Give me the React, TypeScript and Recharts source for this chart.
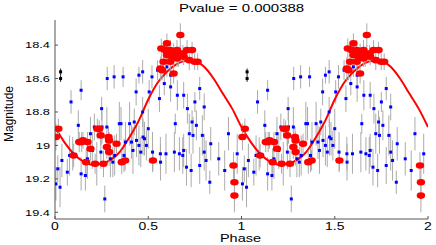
import React from 'react'
import { ComposedChart, Scatter, Line, XAxis, YAxis, ErrorBar } from 'recharts'

// one cycle of phase [phase, magnitude, error]; the plot shows it twice (0-1 and 1-2)
const BLUE: [number, number, number][] = [
  [0.005, 19.23, 0.1], [0.015, 19.14, 0.08], [0.027, 19.25, 0.12], [0.037, 19.09, 0.1],
  [0.066, 19.16, 0.08], [0.078, 19.06, 0.12], [0.086, 18.74, 0.07], [0.095, 19.05, 0.1],
  [0.125, 18.88, 0.09], [0.14, 18.67, 0.06], [0.14, 19.17, 0.1], [0.163, 19.18, 0.09],
  [0.174, 19.08, 0.12], [0.19, 18.93, 0.1], [0.2, 19.03, 0.11], [0.211, 18.89, 0.08],
  [0.224, 19.11, 0.13], [0.246, 19.04, 0.1], [0.25, 18.78, 0.07], [0.252, 18.89, 0.1],
  [0.267, 19.32, 0.08], [0.278, 18.89, 0.12], [0.28, 18.6, 0.07], [0.297, 19.08, 0.11],
  [0.31, 19.1, 0.09], [0.317, 18.59, 0.07], [0.32, 19.06, 0.12], [0.345, 18.87, 0.13],
  [0.354, 18.87, 0.1], [0.365, 18.59, 0.06], [0.37, 19.06, 0.1], [0.378, 18.98, 0.12],
  [0.4, 18.87, 0.13], [0.41, 18.98, 0.1], [0.418, 19.03, 0.14], [0.425, 18.86, 0.08],
  [0.435, 18.68, 0.08], [0.437, 18.97, 0.1], [0.45, 18.58, 0.05], [0.45, 19.0, 0.12],
  [0.46, 19.04, 0.09], [0.47, 18.56, 0.07], [0.47, 18.8, 0.09], [0.472, 18.95, 0.11],
  [0.48, 18.96, 0.1], [0.49, 19.0, 0.09], [0.5, 18.9, 0.12], [0.505, 18.68, 0.07],
  [0.52, 18.59, 0.07], [0.523, 19.04, 0.12], [0.55, 18.55, 0.06], [0.56, 18.72, 0.08],
  [0.565, 19.05, 0.1], [0.566, 19.1, 0.11], [0.586, 18.63, 0.07], [0.595, 19.05, 0.12],
  [0.6, 18.53, 0.06], [0.62, 18.58, 0.07], [0.62, 18.65, 0.09], [0.64, 19.04, 0.12],
  [0.645, 18.87, 0.06], [0.656, 18.7, 0.09], [0.667, 19.05, 0.1], [0.685, 19.06, 0.11],
  [0.69, 18.7, 0.08], [0.69, 19.03, 0.1], [0.705, 19.13, 0.11], [0.71, 18.78, 0.09],
  [0.72, 18.93, 0.12], [0.73, 19.15, 0.1], [0.735, 18.86, 0.07], [0.74, 18.94, 0.11],
  [0.75, 18.74, 0.06], [0.758, 18.88, 0.09], [0.776, 18.66, 0.07], [0.776, 19.12, 0.11],
  [0.79, 18.94, 0.12], [0.8, 18.77, 0.08], [0.8, 19.04, 0.11], [0.81, 19.09, 0.12],
  [0.83, 19.22, 0.07], [0.835, 18.99, 0.1], [0.878, 19.08, 0.1], [0.91, 19.15, 0.12],
  [0.93, 18.93, 0.1], [0.977, 19.05, 0.12],
]

const RED: [number, number, number][] = [
  [0.005, 18.95, 0.08], [0.018, 18.9, 0.06], [0.1, 19.06, 0.07], [0.13, 18.98, 0.06],
  [0.143, 18.98, 0.06], [0.15, 18.97, 0.05], [0.167, 19.1, 0.08], [0.174, 18.98, 0.06],
  [0.19, 19.02, 0.07], [0.215, 19.11, 0.06], [0.227, 18.9, 0.06], [0.237, 18.9, 0.05],
  [0.245, 18.94, 0.06], [0.26, 19.11, 0.08], [0.278, 19.01, 0.07], [0.287, 18.95, 0.06],
  [0.29, 18.97, 0.05], [0.29, 19.04, 0.08], [0.33, 18.99, 0.06], [0.358, 19.1, 0.07],
  [0.376, 19.09, 0.06], [0.525, 19.09, 0.06], [0.957, 19.12, 0.08], [0.962, 19.22, 0.1],
  [0.962, 19.3, 0.1],
  [0.672, 18.34, 0.07], [0.6, 18.39, 0.06], [0.57, 18.42, 0.06], [0.59, 18.43, 0.05],
  [0.618, 18.43, 0.06], [0.636, 18.44, 0.05], [0.654, 18.43, 0.06], [0.686, 18.45, 0.05],
  [0.708, 18.43, 0.06], [0.735, 18.43, 0.05], [0.6, 18.46, 0.06], [0.627, 18.47, 0.05],
  [0.663, 18.47, 0.06], [0.672, 18.45, 0.05], [0.582, 18.5, 0.07], [0.618, 18.5, 0.06],
  [0.654, 18.48, 0.05], [0.72, 18.49, 0.06], [0.749, 18.5, 0.05], [0.765, 18.5, 0.05],
  [0.565, 18.54, 0.07], [0.574, 18.55, 0.06], [0.636, 18.57, 0.06], [0.69, 18.47, 0.05],
]

const BLACK: [number, number, number][] = [
  [0.03, 18.56, 0.02], [0.03, 18.6, 0.02],
]

// fitted curve read every 0.05 in phase
const CURVE_PHASE = [0, 0.05, 0.1, 0.15, 0.2, 0.25, 0.3, 0.35, 0.4, 0.45, 0.5, 0.55, 0.6, 0.65, 0.7, 0.75, 0.8, 0.85, 0.9, 0.95]
const CURVE_MAG = [18.89, 18.98, 19.05, 19.095, 19.115, 19.11, 19.085, 19.035, 18.95, 18.85, 18.725, 18.625, 18.56, 18.515, 18.495, 18.495, 18.53, 18.6, 18.69, 18.78]

const X_TICKS = [0, 0.5, 1, 1.5, 2]
const Y_TICKS = [18.4, 18.6, 18.8, 19, 19.2, 19.4]

const twice = (pts: [number, number, number][]) =>
  pts.flatMap(([x, y, e]) => [{ x, y, e }, { x: x + 1, y, e }])

const blueData = twice(BLUE)
const redData = twice(RED)
const blackData = twice(BLACK)
const curveData = [
  ...CURVE_PHASE.map((x, i) => ({ x, y: CURVE_MAG[i] })),
  ...CURVE_PHASE.map((x, i) => ({ x: x + 1, y: CURVE_MAG[i] })),
  { x: 2, y: CURVE_MAG[0] },
]

const FONT = '"Liberation Sans", Arial, sans-serif'

function XTick({ x, y, payload }: any) {
  return (
    <g transform={`translate(${x},${y})`}>
      <text transform="scale(1.4,1)" textAnchor="middle" fontSize={10} fontFamily={FONT} fill="#000">
        {payload.value}
      </text>
    </g>
  )
}

function YTick({ x, y, payload }: any) {
  return (
    <g transform={`translate(${x},${y})`}>
      <text transform="scale(1.35,1)" textAnchor="end" dy={3.4} fontSize={9.5} fontFamily={FONT} fill="#000">
        {payload.value}
      </text>
    </g>
  )
}

const BlueDot = (p: any) => <rect x={p.cx - 1.5} y={p.cy - 1.5} width={3} height={3} fill="#0000ff" />
const BlackDot = (p: any) => <rect x={p.cx - 1.5} y={p.cy - 1.5} width={3} height={3} fill="#000" />
const RedDot = (p: any) => <ellipse cx={p.cx} cy={p.cy} rx={4.2} ry={3.3} fill="#ff0000" />

export default function App() {
  return (
    <div style={{ position: 'absolute', left: 0, top: 0, width: 436, height: 245, background: '#fff' }}>
      <ComposedChart width={436} height={245} margin={{ top: 20, right: 8, bottom: 0, left: 0 }}>
        <XAxis xAxisId="b" type="number" dataKey="x" domain={[0, 2]} ticks={X_TICKS} allowDataOverflow
          height={26} tickSize={-3} tickMargin={14} tick={<XTick />} stroke="#555" />
        <XAxis xAxisId="t" orientation="top" type="number" dataKey="x" domain={[0, 2]} ticks={X_TICKS} allowDataOverflow
          height={0} tickSize={-3} tick={false} stroke="#555" />
        <YAxis yAxisId="l" type="number" domain={[18.25, 19.44]} ticks={Y_TICKS} reversed allowDataOverflow
          width={55} tickSize={-3} tickMargin={8} tick={<YTick />} stroke="#555" />
        <YAxis yAxisId="r" orientation="right" type="number" domain={[18.25, 19.44]} ticks={Y_TICKS} reversed allowDataOverflow
          width={0} tickSize={-3} tick={false} stroke="#999" strokeWidth={1.5} />
        <Scatter xAxisId="b" yAxisId="l" data={blueData} dataKey="y" shape={BlueDot} isAnimationActive={false}>
          <ErrorBar dataKey="e" direction="y" width={0} stroke="#ababab" strokeWidth={1} />
        </Scatter>
        <Scatter xAxisId="b" yAxisId="l" data={blackData} dataKey="y" shape={BlackDot} isAnimationActive={false}>
          <ErrorBar dataKey="e" direction="y" width={0} stroke="#222" strokeWidth={1} />
        </Scatter>
        <Line xAxisId="b" yAxisId="l" data={curveData} dataKey="y" type="monotone" stroke="#ff0000"
          strokeWidth={2} dot={false} activeDot={false} isAnimationActive={false} />
        <Scatter xAxisId="b" yAxisId="l" data={redData} dataKey="y" shape={RedDot} isAnimationActive={false}>
          <ErrorBar dataKey="e" direction="y" width={0} stroke="#ababab" strokeWidth={1} />
        </Scatter>
      </ComposedChart>
      <svg width={436} height={245} style={{ position: 'absolute', left: 0, top: 0, pointerEvents: 'none' }}>
        <g transform="translate(241.5,11.7)">
          <text transform="scale(1.4,1)" textAnchor="middle" fontSize={10.7} fontFamily={FONT}>Pvalue = 0.000388</text>
        </g>
        <g transform="translate(240.5,241.5)">
          <text transform="scale(1.45,1)" textAnchor="middle" fontSize={10} fontFamily={FONT}>Phase</text>
        </g>
        <text transform="translate(13,114) rotate(-90)" textAnchor="middle" fontSize={12} fontFamily={FONT}>Magnitude</text>
      </svg>
    </div>
  )
}
